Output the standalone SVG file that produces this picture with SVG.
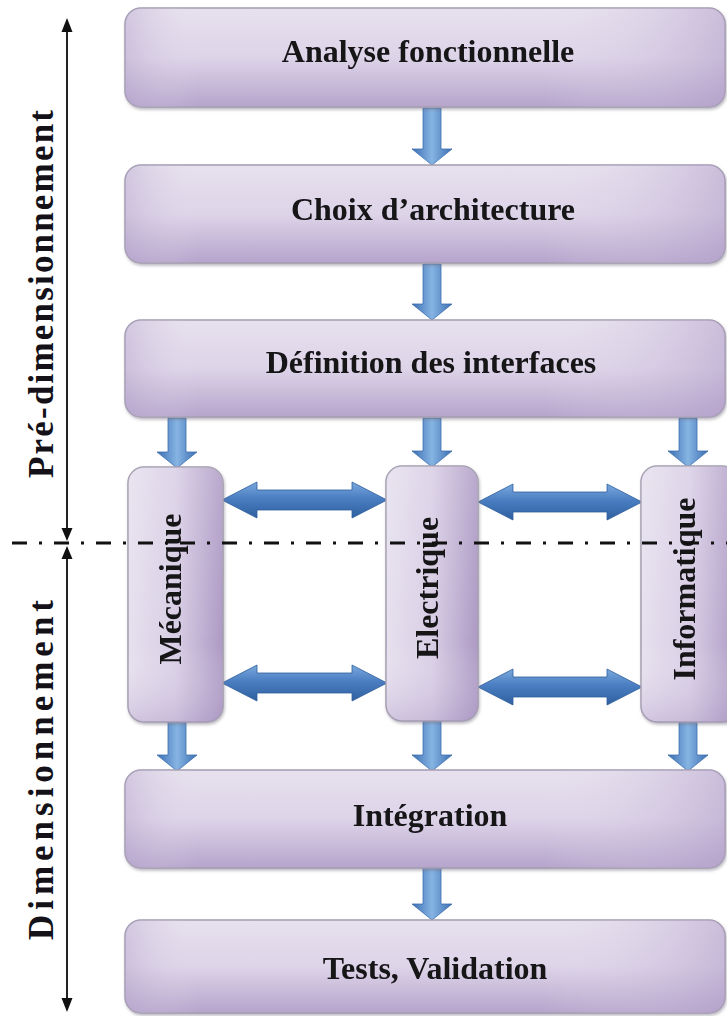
<svg xmlns="http://www.w3.org/2000/svg" width="727" height="1016" viewBox="0 0 727 1016">
<style>
  .lbl{font-family:"Liberation Serif","Times New Roman",serif;font-weight:bold;font-size:32px;fill:#141218;text-anchor:middle}
  .side{font-size:35px}
  .box{fill:url(#hGrad);stroke:#a39db0;stroke-width:1.5}
  .boxov{fill:url(#hOver);stroke:none}
  .vbox{fill:url(#vGrad);stroke:#a39db0;stroke-width:1.5}
  .vboxov{fill:url(#vOver);stroke:none}
  .darr{fill:url(#dGrad);stroke:#3e6fae;stroke-width:0.8}
  .harr{fill:url(#bGrad);stroke:#2f5e9c;stroke-width:0.8}
  .axis{stroke:#222;stroke-width:2;fill:none}
  .head{fill:#111}
  .dash{stroke:#111;stroke-width:3;fill:none;stroke-dasharray:15 12 3 12}
</style>
<defs>
  <linearGradient id="hGrad" x1="0" y1="0" x2="0" y2="1">
    <stop offset="0" stop-color="#e7e1ee"/>
    <stop offset="0.5" stop-color="#ddd4e8"/>
    <stop offset="1" stop-color="#b6a4cc"/>
  </linearGradient>
  <linearGradient id="hOver" x1="0" y1="0" x2="1" y2="0">
    <stop offset="0" stop-color="#b7a6cc" stop-opacity="0.45"/>
    <stop offset="0.12" stop-color="#e8e2ef" stop-opacity="0"/>
    <stop offset="0.7" stop-color="#e8e2ef" stop-opacity="0"/>
    <stop offset="1" stop-color="#b3a0ca" stop-opacity="0.55"/>
  </linearGradient>
  <linearGradient id="vGrad" x1="0" y1="0" x2="1" y2="0">
    <stop offset="0" stop-color="#e6e0ee"/>
    <stop offset="0.5" stop-color="#d8cee5"/>
    <stop offset="1" stop-color="#ad99c4"/>
  </linearGradient>
  <linearGradient id="vOver" x1="0" y1="0" x2="0" y2="1">
    <stop offset="0" stop-color="#ffffff" stop-opacity="0.15"/>
    <stop offset="0.7" stop-color="#ffffff" stop-opacity="0"/>
    <stop offset="1" stop-color="#a995c2" stop-opacity="0.35"/>
  </linearGradient>
  <linearGradient id="dGrad" x1="0" y1="0" x2="1" y2="0">
    <stop offset="0" stop-color="#3c6fb3"/>
    <stop offset="0.5" stop-color="#86b4e3"/>
    <stop offset="1" stop-color="#3c6fb3"/>
  </linearGradient>
  <linearGradient id="bGrad" x1="0" y1="0" x2="0" y2="1">
    <stop offset="0" stop-color="#7ba9dd"/>
    <stop offset="0.45" stop-color="#4a7ec2"/>
    <stop offset="1" stop-color="#2f609f"/>
  </linearGradient>
  <filter id="sh" x="-5%" y="-5%" width="110%" height="120%">
    <feDropShadow dx="1" dy="2" stdDeviation="1.5" flood-color="#7a7585" flood-opacity="0.5"/>
  </filter>
</defs>
<rect width="727" height="1016" fill="#ffffff"/>

<g id="axis">
  <line class="axis" x1="67" y1="30" x2="67" y2="529"/>
  <polygon class="head" points="67,18 61.5,32 72.5,32"/>
  <polygon class="head" points="67,541 61.5,528 72.5,528"/>
  <line class="axis" x1="67" y1="559" x2="67" y2="999"/>
  <polygon class="head" points="67,546 61.5,559 72.5,559"/>
  <polygon class="head" points="67,1012 61.5,998 72.5,998"/>
  <text id="pre" class="lbl side" transform="translate(53,294) rotate(-90)" textLength="368" lengthAdjust="spacing">Pré-dimensionnement</text>
  <text id="dim" class="lbl side" transform="translate(53,770) rotate(-90)" textLength="340" lengthAdjust="spacing">Dimensionnement</text>
</g>

<g id="connectors">
  <polygon class="darr" points="423,108 441,108 441,149 452,149 432,165 412,149 423,149"/>
  <polygon class="darr" points="423,264 441,264 441,304 452,304 432,320 412,304 423,304"/>
  <polygon class="darr" points="168,418 186,418 186,452 197,452 177,468 157,452 168,452"/>
  <polygon class="darr" points="423,418 441,418 441,451 452,451 432,467 412,451 423,451"/>
  <polygon class="darr" points="679,418 697,418 697,451 708,451 688,467 668,451 679,451"/>
  <polygon class="darr" points="168,722 186,722 186,755 197,755 177,771 157,755 168,755"/>
  <polygon class="darr" points="423,721 441,721 441,755 452,755 432,771 412,755 423,755"/>
  <polygon class="darr" points="679,722 697,722 697,755 708,755 688,771 668,755 679,755"/>
  <polygon class="darr" points="423,868 441,868 441,904 452,904 432,920 412,904 423,904"/>
  <polygon class="harr" points="222,500 257,482 257,490 352,490 352,482 387,500 352,518 352,510 257,510 257,518"/>
  <polygon class="harr" points="222,683 257,665 257,673 352,673 352,665 387,683 352,701 352,693 257,693 257,701"/>
  <polygon class="harr" points="478,502 513,484 513,492 607,492 607,484 642,502 607,520 607,512 513,512 513,520"/>
  <polygon class="harr" points="478,687 513,669 513,677 607,677 607,669 642,687 607,705 607,697 513,697 513,705"/>
</g>

<g id="n1" filter="url(#sh)">
  <rect class="box" x="125" y="8" width="600" height="99" rx="16"/>
  <rect class="boxov" x="125" y="8" width="600" height="99" rx="16"/>
  <text class="lbl" x="428" y="62">Analyse fonctionnelle</text>
</g>
<g id="n2" filter="url(#sh)">
  <rect class="box" x="125" y="165" width="600" height="98" rx="16"/>
  <rect class="boxov" x="125" y="165" width="600" height="98" rx="16"/>
  <text class="lbl" x="433" y="220">Choix d’architecture</text>
</g>
<g id="n3" filter="url(#sh)">
  <rect class="box" x="125" y="320" width="600" height="97" rx="16"/>
  <rect class="boxov" x="125" y="320" width="600" height="97" rx="16"/>
  <text class="lbl" x="431" y="373">Définition des interfaces</text>
</g>
<g id="n4" filter="url(#sh)">
  <rect class="vbox" x="128" y="467" width="95" height="255" rx="16"/>
  <rect class="vboxov" x="128" y="467" width="95" height="255" rx="16"/>
  <text class="lbl" transform="translate(181,589) rotate(-90)">Mécanique</text>
</g>
<g id="n5" filter="url(#sh)">
  <rect class="vbox" x="386" y="466" width="92" height="255" rx="16"/>
  <rect class="vboxov" x="386" y="466" width="92" height="255" rx="16"/>
  <text class="lbl" transform="translate(438,588) rotate(-90)">Electrique</text>
</g>
<g id="n6" filter="url(#sh)">
  <rect class="vbox" x="641" y="466" width="98" height="256" rx="16"/>
  <rect class="vboxov" x="641" y="466" width="98" height="256" rx="16"/>
  <text class="lbl" transform="translate(695,589) rotate(-90)">Informatique</text>
</g>
<g id="n7" filter="url(#sh)">
  <rect class="box" x="125" y="770" width="600" height="98" rx="16"/>
  <rect class="boxov" x="125" y="770" width="600" height="98" rx="16"/>
  <text class="lbl" x="430" y="826">Intégration</text>
</g>
<g id="n8" filter="url(#sh)">
  <rect class="box" x="125" y="920" width="600" height="93" rx="16"/>
  <rect class="boxov" x="125" y="920" width="600" height="93" rx="16"/>
  <text class="lbl" x="435" y="979">Tests, Validation</text>
</g>

<g id="separator">
  <line class="dash" x1="12" y1="543" x2="727" y2="543"/>
</g>
</svg>
